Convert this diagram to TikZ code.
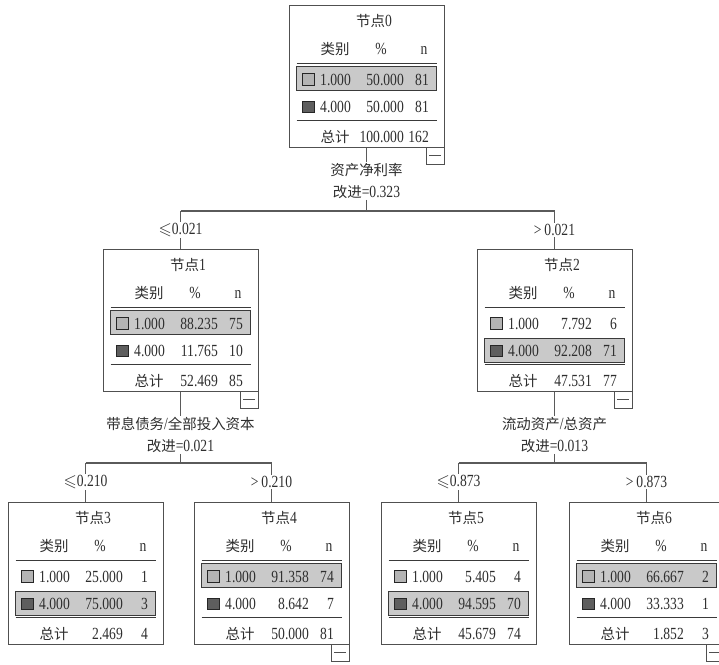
\documentclass[tikz,border=0pt]{standalone}
\usepackage{fontspec}
\usepackage{amssymb}
\setmainfont{Liberation Serif}[FakeStretch=0.8]
\newfontfamily\cjk{Noto Sans CJK SC}[Scale=0.85]
\definecolor{txt}{HTML}{2E2E2E}
\definecolor{framec}{HTML}{505050}
\definecolor{hlfill}{HTML}{C9C9C9}
\definecolor{hlline}{HTML}{3A3A3A}
\definecolor{swlight}{HTML}{B4B4B4}
\definecolor{swdark}{HTML}{5E5E5E}
\definecolor{sepc}{HTML}{3A3A3A}
\definecolor{connc}{HTML}{5A5A5A}
\tikzset{
  every node/.style={font=\fontsize{17}{22}\selectfont, text=txt, inner sep=0pt},
  dtframe/.style={draw=framec, line width=1pt, minimum width=155pt, minimum height=142pt, fill=white},
  dthl/.style={draw=hlline, fill=hlfill, line width=1pt, minimum width=140pt, minimum height=24pt},
  swA/.style={draw=black!85, fill=swlight, line width=0.8pt, minimum size=11.5pt},
  swB/.style={draw=black!85, fill=swdark, line width=0.8pt, minimum size=11.5pt},
  dtsep/.style={draw=sepc, line width=1.3pt},
  conn/.style={draw=connc, line width=1.2pt},
  minusbox/.style={draw=framec, fill=white, line width=1pt, minimum width=18pt, minimum height=17pt},
  splitlbl/.style={align=center, fill=white, inner sep=1pt},
  edgelbl/.style={fill=white, inner sep=1pt},
}
% frame: #1 name, #2 L, #3 T, #4 digit, #5 highlighted row, #6 minus box (1/0)
\newcommand\dtnode[6]{%
\begin{scope}[shift={(#2,#3)}]
  \node[dtframe] (#1) at (77.5,71) {};
  \ifnum#5=1 \node[dthl] (#1h) at (77.5,73.5) {};\else \node[dthl] (#1h) at (77.5,101) {};\fi
  \node[anchor=base] (#1t) at (85,21.5) {{\cjk 节点}#4};
  \node[anchor=base] (#1hc) at (46,49.5) {\cjk 类别};
  \node[anchor=base] (#1hp) at (92,49.5) {\%};
  \node[anchor=base] (#1hn) at (135,49.5) {n};
  \draw[dtsep] (7.7,58.5) -- (147.7,58.5);
  \node[swA] (#1s1) at (19.5,74.5) {};
  \node[anchor=base west] (#1c1) at (31,80) {1.000};
  \node[swB] (#1s2) at (19.5,102) {};
  \node[anchor=base west] (#1c2) at (31,107.5) {4.000};
  \draw[dtsep] (7.7,115.5) -- (147.7,115.5);
  \node[anchor=base] (#1tc) at (46,137) {\cjk 总计};
  \ifnum#6=1
    \node[minusbox] (#1m) at (146,150.5) {};
    \draw[draw=framec, line width=1pt] ([xshift=-6pt]#1m.center) -- ([xshift=6pt]#1m.center);
  \fi
\end{scope}}
% values: #1 name, #2 L, #3 T, #4 p1, #5 n1, #6 p2, #7 n2, #8 total p, #9 total n
\newcommand\dtvals[9]{%
\begin{scope}[shift={(#2,#3)}]
  \node[anchor=base east] (#1p1) at (115,80) {#4};
  \node[anchor=base east] (#1n1) at (140,80) {#5};
  \node[anchor=base east] (#1p2) at (115,107.5) {#6};
  \node[anchor=base east] (#1n2) at (140,107.5) {#7};
  \node[anchor=base east] (#1tp) at (115,137) {#8};
  \node[anchor=base east] (#1tn) at (140,137) {#9};
\end{scope}}
\begin{document}
\begin{tikzpicture}[x=1pt,y=-1pt]
\useasboundingbox (0,0) rectangle (719,664);
\clip (0,0) rectangle (719,664);
\fill[white] (0,0) rectangle (719,664);

% nodes
\dtnode{n0}{289}{5}{0}{1}{1}
\dtvals{n0}{289}{5}{50.000}{81}{50.000}{81}{100.000}{162}
\dtnode{n1}{103}{249}{1}{1}{1}
\dtvals{n1}{103}{249}{88.235}{75}{11.765}{10}{52.469}{85}
\dtnode{n2}{477}{249}{2}{2}{1}
\dtvals{n2}{477}{249}{7.792}{6}{92.208}{71}{47.531}{77}
\dtnode{n3}{8}{502}{3}{2}{0}
\dtvals{n3}{8}{502}{25.000}{1}{75.000}{3}{2.469}{4}
\dtnode{n4}{194}{502}{4}{1}{1}
\dtvals{n4}{194}{502}{91.358}{74}{8.642}{7}{50.000}{81}
\dtnode{n5}{381}{502}{5}{2}{0}
\dtvals{n5}{381}{502}{5.405}{4}{94.595}{70}{45.679}{74}
\dtnode{n6}{569}{502}{6}{1}{1}
\dtvals{n6}{569}{502}{66.667}{2}{33.333}{1}{1.852}{3}

% split labels
\node[splitlbl] (q0) at (366.5,181) {{\cjk 资产净利率}\\{\cjk 改进}=0.323};
\node[splitlbl] (q1) at (180.5,435) {{\cjk 带息债务}/{\cjk 全部投入资本}\\{\cjk 改进}=0.021};
\node[splitlbl] (q2) at (554.5,435) {{\cjk 流动资产}/{\cjk 总资产}\\{\cjk 改进}=0.013};

% junction coordinates
\coordinate (j0) at (366.5,211);
\coordinate (j0l) at (180.5,211);
\coordinate (j0r) at (554.5,211);
\coordinate (j1) at (180.5,463);
\coordinate (j1l) at (85.5,463);
\coordinate (j1r) at (271.5,463);
\coordinate (j2) at (554.5,463);
\coordinate (j2l) at (458.5,463);
\coordinate (j2r) at (646.5,463);

% edge labels
\node[edgelbl] (e1) at (180.5,230) {$\leqslant$0.021};
\node[edgelbl] (e2) at (554.5,230) {>\,0.021};
\node[edgelbl] (e3) at (85.5,482) {$\leqslant$0.210};
\node[edgelbl] (e4) at (271.5,482) {>\,0.210};
\node[edgelbl] (e5) at (458.5,482) {$\leqslant$0.873};
\node[edgelbl] (e6) at (646.5,482) {>\,0.873};

% connectors
\draw[conn] (n0.south) -- (q0.north);
\draw[conn] (q0.south) -- (j0);
\draw[conn] (j0l) -- (j0r);
\draw[conn] (j0l) -- (e1.north);
\draw[conn] (e1.south) -- (n1.north);
\draw[conn] (j0r) -- (e2.north);
\draw[conn] (e2.south) -- (n2.north);

\draw[conn] (n1.south) -- (q1.north);
\draw[conn] (q1.south) -- (j1);
\draw[conn] (j1l) -- (j1r);
\draw[conn] (j1l) -- (e3.north);
\draw[conn] (e3.south) -- (n3.north);
\draw[conn] (j1r) -- (e4.north);
\draw[conn] (e4.south) -- (n4.north);

\draw[conn] (n2.south) -- (q2.north);
\draw[conn] (q2.south) -- (j2);
\draw[conn] (j2l) -- (j2r);
\draw[conn] (j2l) -- (e5.north);
\draw[conn] (e5.south) -- (n5.north);
\draw[conn] (j2r) -- (e6.north);
\draw[conn] (e6.south) -- (n6.north);
\end{tikzpicture}
\end{document}
